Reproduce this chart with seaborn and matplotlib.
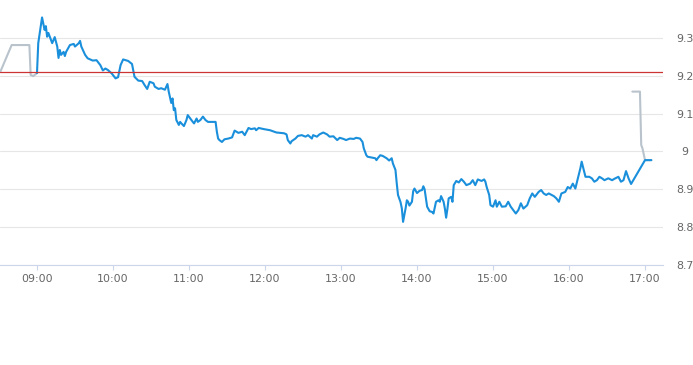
import matplotlib
matplotlib.use("Agg")
import matplotlib.pyplot as plt
import seaborn as sns
import pandas as pd

# ---------------- data ----------------
trade_date = "2024-01-02"
session_open = "09:00"

# minutes after 09:00 and last price (regular session)
main_minutes = [
    0, 1, 4, 6, 7, 8, 9, 12, 13, 14,
    16, 17, 18, 19, 21, 22, 23, 26, 29, 30,
    33, 34, 35, 38, 40, 44, 47, 50, 52, 54,
    56, 59, 62, 64, 66, 68, 72, 75, 77, 80,
    83, 85, 87, 89, 92, 93, 96, 98, 101, 103,
    104, 106, 107, 108, 109, 110, 112, 113, 114, 116,
    118, 119, 121, 123, 124, 126, 127, 129, 131, 133,
    135, 141, 142, 143, 144, 146, 148, 151, 154, 156,
    159, 162, 164, 167, 169, 172, 173, 175, 179, 184,
    189, 195, 197, 198, 200, 201, 204, 206, 209, 212,
    214, 217, 218, 221, 223, 226, 229, 231, 234, 237,
    239, 242, 244, 247, 250, 252, 255, 257, 258, 260,
    261, 264, 267, 268, 269, 271, 273, 276, 278, 280,
    281, 283, 284, 285, 287, 288, 289, 291, 292, 293,
    294, 296, 297, 298, 300, 302, 304, 305, 306, 308,
    310, 312, 313, 315, 317, 318, 319, 321, 322, 323,
    324, 325, 327, 328, 329, 331, 333, 335, 337, 339,
    342, 344, 346, 348, 351, 353, 354, 355, 357, 358,
    360, 362, 363, 365, 367, 370, 372, 374, 376, 378,
    380, 382, 384, 387, 389, 391, 393, 396, 398, 400,
    402, 404, 408, 410, 412, 414, 417, 419, 421, 423,
    425, 427, 429, 430, 432, 433, 436, 438, 440, 442,
    444, 446, 448, 451, 454, 456, 459, 461, 463, 465,
    467, 469, 480, 485,
]
main_prices = [
    9.207, 9.286, 9.354, 9.321, 9.331, 9.303, 9.313, 9.286, 9.294, 9.302,
    9.277, 9.247, 9.268, 9.255, 9.263, 9.252, 9.263, 9.281, 9.284, 9.277,
    9.286, 9.292, 9.277, 9.255, 9.246, 9.240, 9.241, 9.228, 9.214, 9.219,
    9.215, 9.206, 9.193, 9.196, 9.228, 9.243, 9.239, 9.231, 9.197, 9.187,
    9.186, 9.175, 9.165, 9.184, 9.180, 9.171, 9.165, 9.167, 9.163, 9.178,
    9.158, 9.128, 9.140, 9.109, 9.114, 9.083, 9.070, 9.078, 9.074, 9.067,
    9.083, 9.096, 9.087, 9.078, 9.074, 9.087, 9.078, 9.083, 9.092, 9.083,
    9.078, 9.078, 9.052, 9.034, 9.030, 9.025, 9.032, 9.034, 9.037, 9.055,
    9.049, 9.052, 9.043, 9.062, 9.059, 9.061, 9.056, 9.062, 9.059, 9.056,
    9.050, 9.048, 9.045, 9.030, 9.021, 9.027, 9.034, 9.041, 9.043, 9.039,
    9.043, 9.034, 9.043, 9.039, 9.045, 9.050, 9.045, 9.039, 9.040, 9.030,
    9.036, 9.033, 9.030, 9.034, 9.033, 9.036, 9.034, 9.025, 9.008, 8.990,
    8.986, 8.984, 8.982, 8.977, 8.982, 8.990, 8.988, 8.982, 8.976, 8.982,
    8.968, 8.951, 8.916, 8.885, 8.866, 8.850, 8.814, 8.850, 8.871, 8.867,
    8.857, 8.867, 8.895, 8.902, 8.890, 8.896, 8.898, 8.908, 8.900, 8.854,
    8.842, 8.840, 8.836, 8.867, 8.871, 8.867, 8.882, 8.867, 8.849, 8.825,
    8.848, 8.876, 8.880, 8.867, 8.911, 8.922, 8.918, 8.927, 8.920, 8.911,
    8.915, 8.924, 8.911, 8.926, 8.922, 8.926, 8.920, 8.906, 8.885, 8.858,
    8.854, 8.871, 8.854, 8.867, 8.854, 8.855, 8.867, 8.854, 8.845, 8.836,
    8.845, 8.863, 8.849, 8.858, 8.876, 8.889, 8.880, 8.893, 8.898, 8.889,
    8.885, 8.889, 8.882, 8.876, 8.867, 8.889, 8.893, 8.906, 8.902, 8.915,
    8.902, 8.929, 8.956, 8.973, 8.946, 8.933, 8.933, 8.929, 8.920, 8.924,
    8.933, 8.929, 8.924, 8.929, 8.924, 8.928, 8.933, 8.920, 8.924, 8.948,
    8.929, 8.914, 8.977, 8.977,
]

# pre-market and after-hours (grey)
pre_minutes = [-29, -20, -6, -5, -3, -1, 0]
pre_prices = [9.210, 9.281, 9.281, 9.202, 9.199, 9.204, 9.207]
post_minutes = [470, 476, 477, 478, 480, 485]
post_prices = [9.158, 9.158, 9.017, 9.008, 8.977, 8.977]

prev_close = 9.21

y_ticks = [8.7, 8.8, 8.9, 9.0, 9.1, 9.2, 9.3]
y_tick_labels = ["8.7", "8.8", "8.9", "9", "9.1", "9.2", "9.3"]
x_tick_labels = ["09:00", "10:00", "11:00", "12:00", "13:00",
                 "14:00", "15:00", "16:00", "17:00"]
x_range = ["08:30:48", "17:14:12"]
y_range = [8.7, 9.4]

# ---------------- build frames ----------------
base = pd.Timestamp(f"{trade_date} {session_open}")


def frame(minutes, prices):
    return pd.DataFrame({
        "time": base + pd.to_timedelta(minutes, unit="min"),
        "price": prices,
    })


main_df = frame(main_minutes, main_prices)
pre_df = frame(pre_minutes, pre_prices)
post_df = frame(post_minutes, post_prices)

# ---------------- plot ----------------
sns.set_theme(style="white")
plt.rcParams["font.family"] = ["DejaVu Sans"]

W, H = 693, 365
fig = plt.figure(figsize=(W / 100, H / 100), dpi=100)
ax = fig.add_axes([0, 1 - 265 / H, 663 / W, 265 / H])

grey = "#b9c3cc"
blue = "#1a8fdb"
lw = 1.5

sns.lineplot(data=pre_df, x="time", y="price", ax=ax, color=grey,
             linewidth=lw, estimator=None, sort=False)
sns.lineplot(data=post_df, x="time", y="price", ax=ax, color=grey,
             linewidth=lw, estimator=None, sort=False)
sns.lineplot(data=main_df, x="time", y="price", ax=ax, color=blue,
             linewidth=lw, estimator=None, sort=False)

ax.axhline(prev_close, color="#cc3333", linewidth=0.9, zorder=3)

ax.set_ylim(*y_range)
ax.set_xlim(pd.Timestamp(f"{trade_date} {x_range[0]}"),
            pd.Timestamp(f"{trade_date} {x_range[1]}"))

ax.set_yticks(y_ticks)
ax.set_yticklabels(y_tick_labels)
xt = [pd.Timestamp(f"{trade_date} {t}") for t in x_tick_labels]
ax.set_xticks(xt)
ax.set_xticklabels(x_tick_labels)

ax.set_xlabel("")
ax.set_ylabel("")

ax.grid(axis="y", color="#e6e6e6", linewidth=0.8)
ax.grid(axis="x", visible=False)
ax.set_axisbelow(True)

for side in ["top", "left", "right"]:
    ax.spines[side].set_visible(False)
ax.spines["bottom"].set_color("#ccd6eb")
ax.spines["bottom"].set_linewidth(0.8)

label_color = "#666666"
ax.tick_params(axis="x", bottom=True, length=3.6, width=0.8, color="#ccd6eb",
               labelsize=7.9, labelcolor=label_color, pad=3)
ax.tick_params(axis="y", left=False, right=False, labelleft=False,
               labelright=True, labelsize=7.9, labelcolor=label_color,
               pad=15.5, length=0)
for lab in ax.get_yticklabels():
    lab.set_horizontalalignment("center")

ax.patch.set_alpha(0)
fig.savefig("out.png", dpi=100)
